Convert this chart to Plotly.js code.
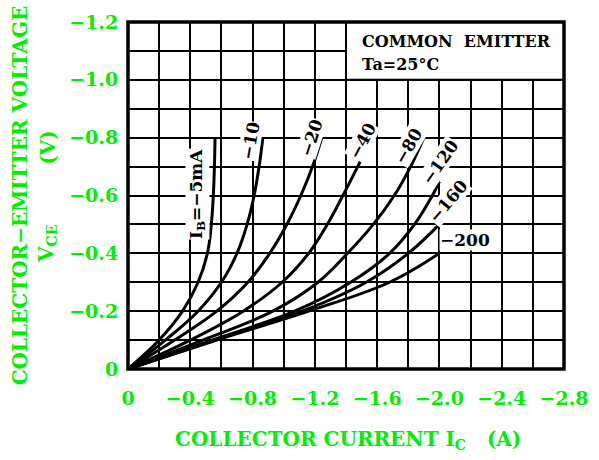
<!DOCTYPE html>
<html><head><meta charset="utf-8">
<script src="https://cdn.plot.ly/plotly-3.0.1.min.js"></script>
<style>body{margin:0;background:#fff}#chart{width:599px;height:460px}</style>
</head><body><div id="chart"></div>
<script>
// Collector-emitter voltage points (V) shared by most curves
const vceFull = [0, -0.1, -0.2, -0.3, -0.4, -0.5, -0.6, -0.7, -0.8];
// Collector current (A) per base current curve
const ic5   = [0, -0.20, -0.35, -0.45, -0.51, -0.535, -0.548, -0.555, -0.559];
const ic10  = [0, -0.24, -0.45, -0.60, -0.70, -0.765, -0.81, -0.842, -0.866];
const ic20  = [0, -0.30, -0.57, -0.77, -0.91, -1.02, -1.11, -1.185, -1.245];
const ic40  = [0, -0.40, -0.74, -0.99, -1.16, -1.28, -1.38, -1.475, -1.566];
const ic80  = [0, -0.48, -0.93, -1.22, -1.41, -1.575, -1.71, -1.815, -1.90];
const vce120 = [0, -0.1, -0.2, -0.3, -0.4, -0.5, -0.6, -0.648];
const ic120 = [0, -0.54, -1.07, -1.43, -1.68, -1.84, -1.955, -2.0];
const vce160 = [0, -0.1, -0.2, -0.3, -0.4, -0.5];
const ic160 = [0, -0.56, -1.12, -1.53, -1.80, -2.0];
const vce200 = [0, -0.1, -0.2, -0.3, -0.4];
const ic200 = [0, -0.57, -1.16, -1.68, -2.0];

const curveLabels = ['I<sub>B</sub>=−5mA', '−10', '−20', '−40', '−80', '−120', '−160', '−200'];
const xTickVals = [0, -0.4, -0.8, -1.2, -1.6, -2.0, -2.4, -2.8];
const xTickText = ['0', '−0.4', '−0.8', '−1.2', '−1.6', '−2.0', '−2.4', '−2.8'];
const xMinorVals = [-0.2, -0.6, -1.0, -1.4, -1.8, -2.2, -2.6];
const yTickVals = [0, -0.2, -0.4, -0.6, -0.8, -1.0, -1.2];
const yTickText = ['0', '−0.2', '−0.4', '−0.6', '−0.8', '−1.0', '−1.2'];
const yMinorVals = [-0.1, -0.3, -0.5, -0.7, -0.9, -1.1];

const series = [
  [ic5, vceFull], [ic10, vceFull], [ic20, vceFull], [ic40, vceFull],
  [ic80, vceFull], [ic120, vce120], [ic160, vce160], [ic200, vce200]
];
const traces = series.map((s, i) => ({
  x: s[0], y: s[1], type: 'scatter', mode: 'lines', name: curveLabels[i],
  line: {color: '#000', width: 3, shape: 'spline', smoothing: 1.1}, hoverinfo: 'skip'
}));

const green = '#00ee00';
const gFont = {family: 'DejaVu Serif', size: 20, color: green, weight: 'bold'};
const tFont = {family: 'DejaVu Serif', size: 19, color: green, weight: 'bold'};
const lFont = {family: 'DejaVu Serif', size: 17, color: '#000', weight: 'bold'};
const bFont = {family: 'DejaVu Serif', size: 16, color: '#000', weight: 'bold'};

function lab(text, x, y, angle) {
  return {text: text, x: x, y: y, xref: 'x', yref: 'y', showarrow: false,
    xanchor: 'center', yanchor: 'middle',
    textangle: angle, font: lFont, bgcolor: '#fff', borderpad: 0};
}

const annotations = [
  lab(curveLabels[0], -0.443, -0.605, -90),
  lab(curveLabels[1], -0.784, -0.79, -80),
  lab(curveLabels[2], -1.176, -0.80, -72),
  lab(curveLabels[3], -1.504, -0.79, -62),
  lab(curveLabels[4], -1.80, -0.772, -60),
  lab(curveLabels[5], -2.005, -0.716, -55),
  lab(curveLabels[6], -2.057, -0.581, -50),
  lab(curveLabels[7], -2.166, -0.447, 0),
  {text: 'COMMON\u00a0\u00a0EMITTER', x: -1.49, y: -1.133, xref: 'x', yref: 'y', xanchor: 'left',
    yanchor: 'middle', showarrow: false, font: bFont},
  {text: 'Ta=25°C', x: -1.49, y: -1.053, xref: 'x', yref: 'y', xanchor: 'left',
    yanchor: 'middle', showarrow: false, font: bFont},
  {text: 'COLLECTOR\u00a0CURRENT\u00a0I<sub>C</sub>\u00a0\u00a0\u00a0(A)', xref: 'paper', yref: 'paper',
    x: 0.505, y: -0.204, xanchor: 'center', yanchor: 'middle', showarrow: false, font: gFont},
  {text: 'COLLECTOR−EMITTER\u00a0VOLTAGE', xref: 'paper', yref: 'paper',
    x: -0.248, y: 0.5, xanchor: 'center', yanchor: 'middle', textangle: -90, showarrow: false, font: gFont},
  {text: '(V)', xref: 'paper', yref: 'paper', x: -0.184, y: 0.637, xanchor: 'center', yanchor: 'middle',
    textangle: -90, showarrow: false, font: gFont},
  {text: 'V<sub>CE</sub>', xref: 'paper', yref: 'paper', x: -0.186, y: 0.36, xanchor: 'center', yanchor: 'middle',
    textangle: -90, showarrow: false, font: gFont}
];

const layout = {
  width: 599, height: 460,
  margin: {l: 128, r: 35, t: 22, b: 91},
  paper_bgcolor: '#fff', plot_bgcolor: '#fff',
  showlegend: false,
  xaxis: {range: [0, -2.8], tickmode: 'array', tickvals: xTickVals, ticktext: xTickText,
    showgrid: true, gridcolor: '#000', gridwidth: 2, zeroline: false,
    ticks: 'outside', ticklen: 12, tickcolor: 'rgba(0,0,0,0)', tickfont: tFont,
    minor: {tickmode: 'array', tickvals: xMinorVals, showgrid: true, gridcolor: '#000', gridwidth: 2, ticks: ''},
    showline: false, fixedrange: true},
  yaxis: {range: [0, -1.2], tickmode: 'array', tickvals: yTickVals, ticktext: yTickText,
    showgrid: true, gridcolor: '#000', gridwidth: 2, zeroline: false,
    ticks: 'outside', ticklen: 5, tickcolor: 'rgba(0,0,0,0)', tickfont: tFont,
    minor: {tickmode: 'array', tickvals: yMinorVals, showgrid: true, gridcolor: '#000', gridwidth: 2, ticks: ''},
    showline: false, fixedrange: true},
  shapes: [
    {type: 'rect', xref: 'x', yref: 'y', x0: -1.4, x1: -2.8, y0: -1.0, y1: -1.2,
      fillcolor: '#fff', line: {color: '#000', width: 2}, layer: 'above'},
    {type: 'rect', xref: 'paper', yref: 'paper', x0: 0, x1: 1, y0: 0, y1: 1,
      line: {color: '#000', width: 3.5}, layer: 'above'}
  ],
  annotations: annotations
};

Plotly.newPlot('chart', traces, layout, {displayModeBar: false, staticPlot: true});
</script></body></html>
